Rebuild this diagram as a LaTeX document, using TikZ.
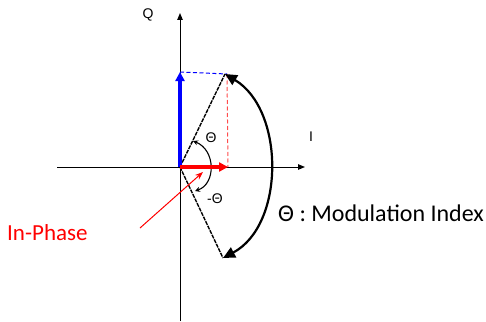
\documentclass[tikz,border=0pt]{standalone}
\usepackage{fontspec}
\setmainfont{Carlito}
\newfontfamily\arialf{Liberation Sans}
\usetikzlibrary{arrows.meta}
\begin{document}
\begin{tikzpicture}[x=1pt,y=-1pt,
  axis/.style={line width=1pt,-{Triangle[length=7pt,width=5.5pt]}},
  phasor/.style={line width=3.2pt,-{Triangle[length=9pt,width=9pt]}},
  proj/.style={line width=1pt,dash pattern=on 4pt off 2.5pt},
  radius/.style={line width=1.4pt,dash pattern=on 4pt off 1pt,black},
  bigarc/.style={line width=2.2pt,{Triangle[length=12pt,width=11pt]}-{Triangle[length=12pt,width=11pt]}},
  smallarc/.style={line width=1.1pt,{Stealth[length=5pt,width=5pt]}-{Stealth[length=5pt,width=5pt]}},
  lbl/.style={font=\arialf\fontsize{14}{16}\selectfont,inner sep=0pt}]
\useasboundingbox (0,0) rectangle (486,321);
% key points
\coordinate (O) at (180,167);
\coordinate (Xl) at (57,167);
\coordinate (Xr) at (305,167);
\coordinate (Yt) at (180,13);
\coordinate (Yb) at (180,321);
\coordinate (Qp) at (180,72);
\coordinate (Ip) at (228,167);
\coordinate (U) at (225,74);
\coordinate (L) at (223,258);
\coordinate (Ucorner) at (227,74);
\coordinate (As) at (193,141);
\coordinate (Ae) at (195,191);
\coordinate (Ps) at (140,228);
\coordinate (Pe) at (203,172);
% axes
\draw[axis] (Xl) -- (Xr);
\draw[axis] (Yb) -- (Yt);
% projections
\draw[proj,blue] (Qp) -- (Ucorner);
\draw[proj,red!70] (Ucorner) -- (Ip);
% radius lines
\draw[radius] (O) -- (U);
\draw[radius] (O) -- (L);
% big arc
\draw[bigarc] (L) .. controls (285,225) and (285,110) .. (U);
% small angle arc
\draw[smallarc] (As) .. controls (216,150) and (216,184) .. (Ae);
% phasors
\draw[phasor,blue] (O) -- (Qp);
\draw[phasor,red] (O) -- (Ip);
% pointer
\draw[red,line width=1pt,-{Stealth[length=8pt,width=6pt]}] (Ps) -- (Pe);
% labels
\node[lbl] (lq) at (148,15) {Q};
\node[lbl] (li) at (311,137) {I};
\node[lbl] (lt) at (211,138) {Θ};
\node[lbl] (lmt) at (215,199) {-Θ};
\node[anchor=west,inner sep=0pt,font=\fontsize{24}{27}\selectfont] (mi) at (278,213) {Θ : Modulation Index};
\node[anchor=west,inner sep=0pt,red,font=\fontsize{23}{26}\selectfont] (ip) at (7,233) {In-Phase};
\end{tikzpicture}
\end{document}
